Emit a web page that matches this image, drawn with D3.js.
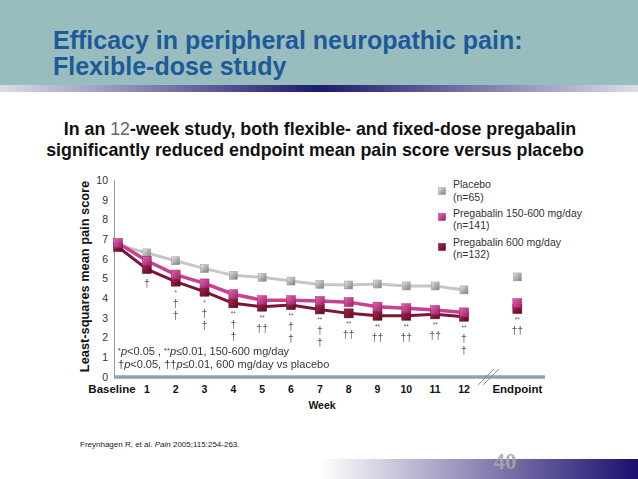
<!DOCTYPE html>
<html>
<head>
<meta charset="utf-8">
<script src="https://cdn.jsdelivr.net/npm/d3@7"></script>
<style>
  html, body { margin: 0; padding: 0; background: #fff; }
  svg { display: block; }
  .gray-aa { opacity: 0.99; will-change: transform; }
</style>
</head>
<body>
<svg id="chart" width="638" height="479"></svg>
<script>
// ---------- data ----------
const weeks = [0, 1, 2, 3, 4, 5, 6, 7, 8, 9, 10, 11, 12];
const xLabels = ["Baseline", "1", "2", "3", "4", "5", "6", "7", "8", "9", "10", "11", "12"];
const endpointLabel = "Endpoint";
const endpointPos = 13.85;
const yTicks = [0, 1, 2, 3, 4, 5, 6, 7, 8, 9, 10];

const placebo = [6.7, 6.3, 5.9, 5.5, 5.16, 5.06, 4.87, 4.7, 4.67, 4.72, 4.62, 4.62, 4.42];
const placeboEnd = 5.08;
const flexDose = [6.8, 5.9, 5.2, 4.75, 4.2, 3.9, 3.9, 3.86, 3.8, 3.57, 3.49, 3.4, 3.28];
const flexEnd = 3.75;
const fixedDose = [6.6, 5.48, 4.84, 4.33, 3.74, 3.57, 3.65, 3.43, 3.23, 3.11, 3.11, 3.18, 3.06];
const fixedEnd = 3.45;

const seriesNames = ["Placebo", "Pregabalin 150-600 mg/day", "Pregabalin 600 mg/day"];
const seriesN = ["(n=65)", "(n=141)", "(n=132)"];

// significance marks per week (index = week), then endpoint
const sigStars = ["", "", "*", "*", "**", "**", "**", "**", "**", "**", "**", "**", "**"];
const sigDaggers = [[], ["†"], ["†", "†"], ["†", "†"], ["†", "†"], ["††"], ["†", "†"], ["†", "†"],
                    ["††"], ["††"], ["††"], ["††"], ["†", "†"]];
const endStars = "**";
const endDaggers = ["††"];

const titleLines = ["Efficacy in peripheral neuropathic pain:", "Flexible-dose study"];
const footnote = "Freynhagen R, et al. ";
const pageNum = "40";

const SANS = "Liberation Sans, Arial, sans-serif";
const DAG = "Liberation Sans, DejaVu Sans, sans-serif";

// ---------- drawing ----------
const svg = d3.select("#chart");
const defs = svg.append("defs");

// header band
svg.append("rect").attr("x", 0).attr("y", 0).attr("width", 638).attr("height", 85).attr("fill", "#99bdbe");
const hg = defs.append("linearGradient").attr("id", "hstrip").attr("x1", "0%").attr("x2", "100%");
hg.append("stop").attr("offset", "0%").attr("stop-color", "#dcdce8");
hg.append("stop").attr("offset", "50%").attr("stop-color", "#1c1a6c");
hg.append("stop").attr("offset", "100%").attr("stop-color", "#dcdce8");
svg.append("rect").attr("x", 0).attr("y", 85).attr("width", 638).attr("height", 7).attr("fill", "url(#hstrip)");

svg.selectAll("text.title").data(titleLines).join("text")
  .attr("class", "title")
  .attr("x", 53).attr("y", (d, i) => 49 + i * 26)
  .attr("font-family", SANS)
  .attr("font-weight", "bold").attr("font-size", 25)
  .attr("fill", "#1d5a9a")
  .text(d => d);

// subtitle
const sub = svg.append("g").attr("font-family", SANS)
  .attr("font-weight", "bold").attr("font-size", 17.8).attr("fill", "#111").attr("text-anchor", "middle");
const s1 = sub.append("text").attr("x", 320).attr("y", 135);
s1.append("tspan").text("In an ");
s1.append("tspan").attr("fill", "#666").attr("font-weight", "normal").text("12");
s1.append("tspan").text("-week study, both flexible- and fixed-dose pregabalin");
sub.append("text").attr("x", 315).attr("y", 156).text("significantly reduced endpoint mean pain score versus placebo");

// bottom bar
const bg = defs.append("linearGradient").attr("id", "bstrip").attr("x1", "0%").attr("x2", "100%");
bg.append("stop").attr("offset", "0%").attr("stop-color", "#ffffff");
bg.append("stop").attr("offset", "100%").attr("stop-color", "#1a0f6c");
svg.append("rect").attr("x", 320).attr("y", 459).attr("width", 318).attr("height", 20).attr("fill", "url(#bstrip)");
svg.append("text").attr("x", 505).attr("y", 469).attr("text-anchor", "middle")
  .attr("font-family", "Liberation Serif, serif").attr("font-weight", "bold").attr("font-size", 23)
  .attr("fill", "#a8a8a8").attr("fill-opacity", 0.9).text(pageNum);

// footnote
const fn = svg.append("text").attr("x", 80).attr("y", 447)
  .attr("font-family", SANS).attr("font-size", 8).attr("fill", "#222");
fn.append("tspan").text(footnote);
fn.append("tspan").attr("font-style", "italic").text("Pain");
fn.append("tspan").text(" 2005;115:254-263.");

// scales
const x = d3.scaleLinear().domain([0, 12]).range([118, 464]);
const y = d3.scaleLinear().domain([0, 10]).range([377, 180]);

// y axis
const yAxis = d3.axisLeft(y).tickValues(yTicks).tickSize(0).tickPadding(6);
const ya = svg.append("g").attr("transform", "translate(114,0)").call(yAxis);
ya.select(".domain").attr("stroke", "#9a9a9a").attr("stroke-width", 1);
ya.selectAll("text").attr("font-family", SANS).attr("font-size", 10.5).attr("fill", "#333");

svg.append("text")
  .attr("transform", `translate(89,${y(5) - 2}) rotate(-90)`)
  .attr("text-anchor", "middle")
  .attr("font-family", SANS).attr("font-weight", "bold").attr("font-size", 12.8)
  .attr("fill", "#111").text("Least-squares mean pain score");

// x axis thick bar
svg.append("line").attr("x1", 114).attr("x2", 545).attr("y1", y(0)).attr("y2", y(0))
  .attr("stroke", "#8ea4b2").attr("stroke-width", 3.5);
// break marks
[0, 5].forEach(o => {
  svg.append("line").attr("x1", x(12) + 14 + o).attr("y1", y(0) + 8)
    .attr("x2", x(12) + 30 + o).attr("y2", y(0) - 8)
    .attr("stroke", "#777").attr("stroke-width", 0.8);
});

// x labels
const xl = svg.append("g").attr("font-family", SANS).attr("font-weight", "bold").attr("fill", "#111");
xl.selectAll("text.xt").data(weeks).join("text").attr("class", "xt")
  .attr("x", d => d === 0 ? x(d) - 6 : x(d))
  .attr("y", 393).attr("text-anchor", "middle")
  .attr("font-size", d => d === 0 ? 11.5 : 10.5)
  .text((d, i) => xLabels[i]);
xl.append("text").attr("x", x(endpointPos)).attr("y", 393).attr("text-anchor", "middle").attr("font-size", 11.5).text(endpointLabel);
xl.append("text").attr("x", 322).attr("y", 409).attr("text-anchor", "middle").attr("font-size", 10.5).text("Week");

// gradients for markers
function mkGrad(id, c1, c2) {
  const g = defs.append("linearGradient").attr("id", id).attr("x1", "0%").attr("y1", "0%").attr("x2", "100%").attr("y2", "100%");
  g.append("stop").attr("offset", "0%").attr("stop-color", c1);
  g.append("stop").attr("offset", "100%").attr("stop-color", c2);
}
mkGrad("gPl", "#e4e4e4", "#7c7c7c");
mkGrad("gFl", "#e068b0", "#a01c68");
mkGrad("gFx", "#a8284e", "#5e0824");

const series = [
  { vals: placebo, end: placeboEnd, line: "#c6c6c6", lw: 3, grad: "url(#gPl)", stroke: "#9a9a9a", size: 8 },
  { vals: fixedDose, end: fixedEnd, line: "#7c1636", lw: 3, grad: "url(#gFx)", stroke: "#5e0a26", size: 9 },
  { vals: flexDose, end: flexEnd, line: "#c8418f", lw: 3.5, grad: "url(#gFl)", stroke: "#a8236f", size: 9 }
];

const line = d3.line().x((d, i) => x(weeks[i])).y(d => y(d));
series.forEach(s => {
  svg.append("path").datum(s.vals).attr("d", line).attr("fill", "none")
    .attr("stroke", s.line).attr("stroke-width", s.lw).attr("stroke-linejoin", "round");
});
series.forEach(s => {
  const pts = s.vals.map((v, i) => ({ xv: weeks[i], v })).concat([{ xv: endpointPos, v: s.end }]);
  svg.selectAll(null).data(pts).join("rect")
    .attr("x", d => x(d.xv) - s.size / 2).attr("y", d => y(d.v) - s.size / 2)
    .attr("width", s.size).attr("height", s.size)
    .attr("fill", s.grad).attr("stroke", s.stroke).attr("stroke-width", 0.5);
});

// significance marks
const sig = svg.append("g").attr("class", "gray-aa").attr("fill", "#555").attr("text-anchor", "middle");
function drawSig(xv, base, stars, daggers) {
  let yy = y(base);
  if (stars) {
    sig.append("text").attr("x", x(xv)).attr("y", yy + 13).attr("font-family", SANS).attr("font-size", 6.5).text(stars);
    yy += 9;
  } else {
    yy += 2;
  }
  daggers.forEach((d, i) => {
    sig.append("text").attr("x", x(xv)).attr("y", yy + 16 + i * 12)
      .attr("font-family", DAG).attr("font-size", 10.5).attr("fill", "#555").text(d);
  });
}
weeks.forEach((w, i) => {
  if (i === 0) return;
  drawSig(w, Math.min(placebo[i], flexDose[i], fixedDose[i]), sigStars[i], sigDaggers[i]);
});
drawSig(endpointPos, Math.min(placeboEnd, flexEnd, fixedEnd), endStars, endDaggers);

// p-value note
const note = svg.append("g").attr("class", "gray-aa").attr("font-family", SANS).attr("font-size", 11).attr("fill", "#333");
const n1 = note.append("text").attr("x", 118).attr("y", 355);
n1.append("tspan").attr("font-size", 7.5).attr("dy", -2).text("*");
n1.append("tspan").attr("font-style", "italic").attr("dy", 2).text("p");
n1.append("tspan").text("<0.05 , ");
n1.append("tspan").attr("font-size", 7.5).attr("dy", -2).text("**");
n1.append("tspan").attr("font-style", "italic").attr("dy", 2).text("p");
n1.append("tspan").text("≤0.01, 150-600 mg/day");
const n2 = note.append("text").attr("x", 118).attr("y", 368);
n2.append("tspan").text("†");
n2.append("tspan").attr("font-style", "italic").text("p");
n2.append("tspan").text("<0.05, ††");
n2.append("tspan").attr("font-style", "italic").text("p");
n2.append("tspan").text("≤0.01, 600 mg/day vs placebo");

// legend
const legY = [[188, 201], [217, 229], [246, 258]];
const legMarkY = [191, 217, 247];
const legOrder = [0, 2, 1]; // placebo, flex, fixed in series[] indices
const leg = svg.append("g").attr("font-family", SANS).attr("font-size", 10.5).attr("fill", "#333");
seriesNames.forEach((name, i) => {
  const s = series[legOrder[i]];
  leg.append("rect").attr("x", 442 - 3.5).attr("y", legMarkY[i] - 3.5).attr("width", 7).attr("height", 7)
    .attr("fill", s.grad).attr("stroke", s.stroke).attr("stroke-width", 0.5);
  leg.append("text").attr("x", 453).attr("y", legY[i][0]).text(name);
  leg.append("text").attr("x", 453).attr("y", legY[i][1]).text(seriesN[i]);
});
</script>
</body>
</html>
